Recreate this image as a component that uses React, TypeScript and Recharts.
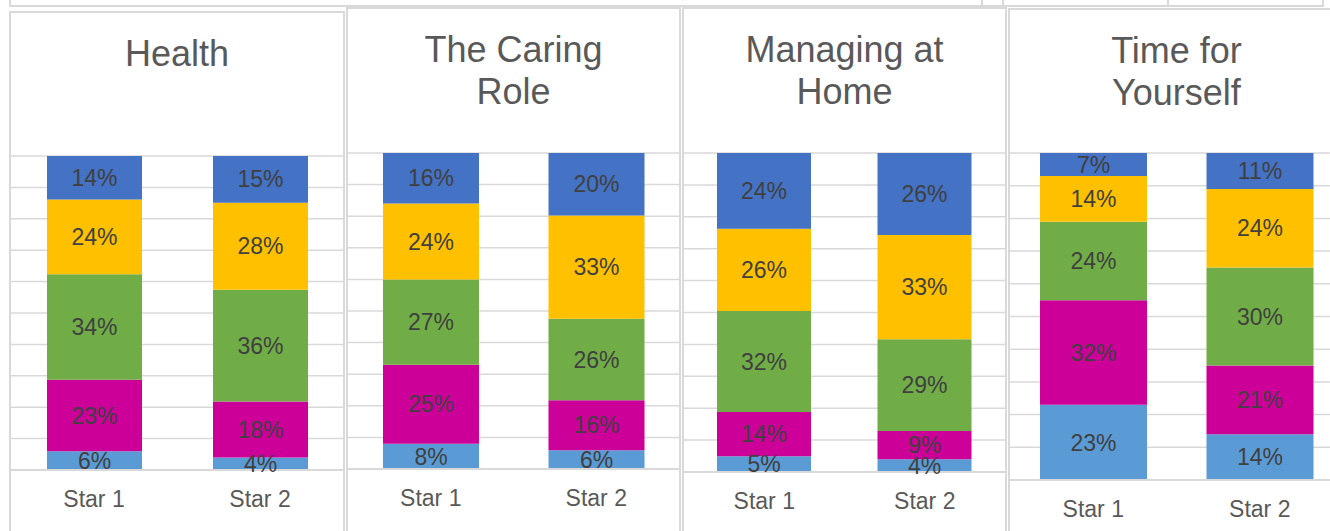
import { BarChart, Bar, XAxis, YAxis, CartesianGrid, LabelList } from 'recharts';

// categories on the x axis of every panel
const CATEGORIES = ['Star 1', 'Star 2'];

// stacked series, bottom to top
const SERIES_KEYS = ['s1', 's2', 's3', 's4', 's5'];
const SERIES_COLORS = ['#5B9BD5', '#CC0099', '#70AD47', '#FFC000', '#4472C4'];

// values per category (Star 1, Star 2), bottom segment first
const HEALTH = [
    [6, 23, 34, 24, 14],
    [4, 18, 36, 28, 15],
];
const CARING_ROLE = [
    [8, 25, 27, 24, 16],
    [6, 16, 26, 33, 20],
];
const MANAGING_HOME = [
    [5, 14, 32, 26, 24],
    [4, 9, 29, 33, 26],
];
const TIME_FOR_YOURSELF = [
    [23, 32, 24, 14, 7],
    [14, 21, 30, 24, 11],
];

const TITLES = ['Health', 'The Caring\nRole', 'Managing at\nHome', 'Time for\nYourself'];
const Y_TICKS = [0, 0.1, 0.2, 0.3, 0.4, 0.5, 0.6, 0.7, 0.8, 0.9, 1];

const FONT = '"Liberation Sans", Arial, sans-serif';
const BORDER = '#D9D9D9';

// panel placement on the page (outer box) and plot area top/bottom
const PANELS = [
    { values: HEALTH, left: 9, top: 11, width: 336, plotTop: 156, plotBottom: 470, barSize: 95 },
    { values: CARING_ROLE, left: 346, top: 7, width: 335, plotTop: 153, plotBottom: 469, barSize: 96 },
    { values: MANAGING_HOME, left: 682, top: 7, width: 325, plotTop: 153, plotBottom: 472, barSize: 94 },
    { values: TIME_FOR_YOURSELF, left: 1008, top: 8, width: 337, plotTop: 153, plotBottom: 480, barSize: 107 },
];

const toRows = (values: number[][]) =>
    CATEGORIES.map((name, i) => {
        const row: Record<string, string | number> = { name };
        SERIES_KEYS.forEach((k, j) => {
            row[k] = values[i][j];
        });
        return row;
    });

function Panel({ panel, title }: { panel: (typeof PANELS)[number]; title: string }) {
    const innerLeft = panel.left + 2;
    const innerTop = panel.top + 2;
    const innerWidth = panel.width - 4;
    const marginTop = panel.plotTop - innerTop;
    const plotHeight = panel.plotBottom - panel.plotTop;
    const axisHeight = 60;

    return (
        <div
            style={{
                position: 'absolute',
                left: panel.left,
                top: panel.top,
                width: panel.width,
                height: 560 - panel.top,
                boxSizing: 'border-box',
                border: `2px solid ${BORDER}`,
                background: 'transparent',
            }}
        >
            <div
                style={{
                    position: 'absolute',
                    left: 0,
                    top: 20,
                    width: innerWidth,
                    textAlign: 'center',
                    fontFamily: FONT,
                    fontSize: 36,
                    lineHeight: '41.5px',
                    color: '#595959',
                    whiteSpace: 'pre-line',
                }}
            >
                {title}
            </div>
            <div style={{ position: 'absolute', left: 0, top: 0 }}>
                <BarChart
                    width={innerWidth}
                    height={marginTop + plotHeight + axisHeight}
                    data={toRows(panel.values)}
                    stackOffset="expand"
                    margin={{ top: marginTop, right: 0, bottom: 0, left: 0 }}
                >
                    <CartesianGrid vertical={false} stroke={BORDER} strokeWidth={1.5} />
                    <XAxis
                        dataKey="name"
                        height={axisHeight}
                        axisLine={{ stroke: BORDER, strokeWidth: 2 }}
                        tickLine={false}
                        tickMargin={15}
                        tick={{ fontSize: 23, fill: '#595959', fontFamily: FONT }}
                    />
                    <YAxis hide domain={[0, 1]} ticks={Y_TICKS} />
                    {SERIES_KEYS.map((key, i) => (
                        <Bar
                            key={key}
                            dataKey={key}
                            stackId="a"
                            fill={SERIES_COLORS[i]}
                            barSize={panel.barSize}
                            isAnimationActive={false}
                        >
                            <LabelList
                                dataKey={key}
                                position="center"
                                formatter={(v: any) => `${v}%`}
                                fill="#404040"
                                fontSize={23}
                                fontFamily={FONT}
                            />
                        </Bar>
                    ))}
                </BarChart>
            </div>
        </div>
    );
}

export default function App() {
    return (
        <div
            style={{
                position: 'absolute',
                left: 0,
                top: 0,
                width: 1330,
                height: 531,
                overflow: 'hidden',
                background: '#fff',
            }}
        >
            {/* strip of cells above the charts */}
            <div
                style={{
                    position: 'absolute',
                    left: 9,
                    top: -2,
                    width: 1315,
                    height: 9,
                    boxSizing: 'border-box',
                    border: `2px solid ${BORDER}`,
                }}
            />
            {[981, 1002, 1167].map(x => (
                <div
                    key={x}
                    style={{ position: 'absolute', left: x, top: 0, width: 2, height: 7, background: BORDER }}
                />
            ))}
            {PANELS.map((p, i) => (
                <Panel key={i} panel={p} title={TITLES[i]} />
            ))}
        </div>
    );
}
